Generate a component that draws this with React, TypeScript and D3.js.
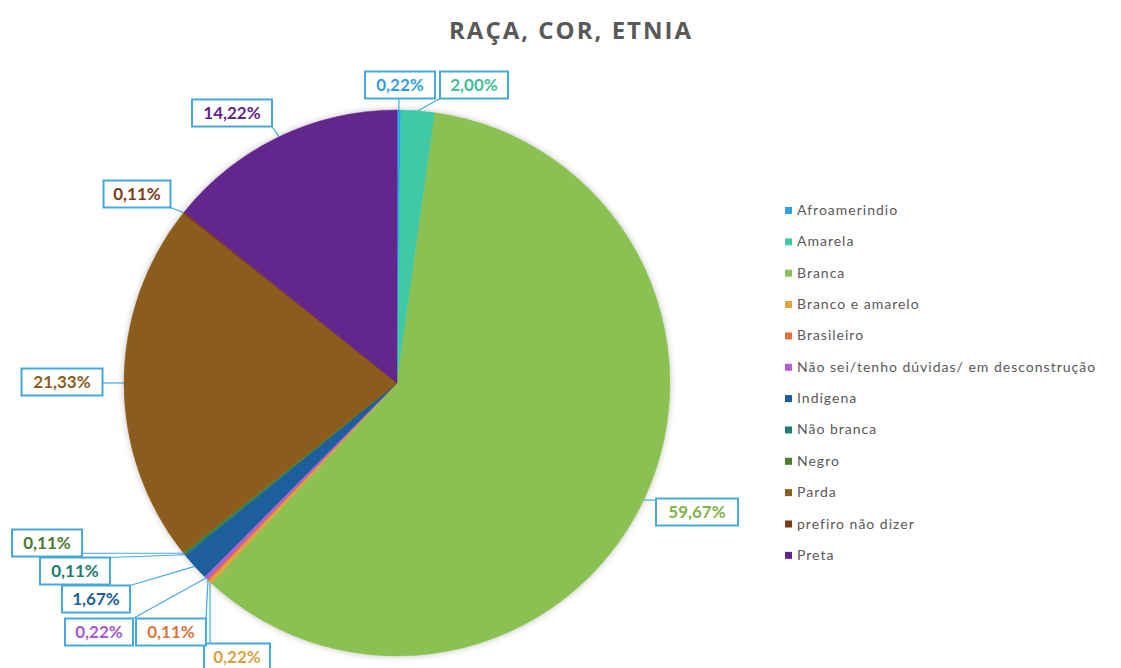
import React from "react";
import * as d3 from "d3";

const categories = [
  "Afroamerindio",
  "Amarela",
  "Branca",
  "Branco e amarelo",
  "Brasileiro",
  "Não sei/tenho dúvidas/ em desconstrução",
  "Indígena",
  "Não branca",
  "Negro",
  "Parda",
  "prefiro não dizer",
  "Preta",
];
const values = [0.22, 2.0, 59.67, 0.22, 0.11, 0.22, 1.67, 0.11, 0.11, 21.33, 0.11, 14.22];
const valueLabels = ["0,22%", "2,00%", "59,67%", "0,22%", "0,11%", "0,22%", "1,67%", "0,11%", "0,11%", "21,33%", "0,11%", "14,22%"];
const colors = ["#2f9fe3", "#3fc9a6", "#8bc152", "#e3a23a", "#e06f3c", "#b15fd1", "#1a5f9c", "#1e7e6b", "#4c7a2e", "#8b5c1b", "#7b3b14", "#62258d"];
const textColors = ["#2f9fe3", "#3fbf96", "#7fb34a", "#d9a23e", "#d9763f", "#a65acb", "#1a5f9c", "#1e7e6b", "#4c7a2e", "#8b5c1b", "#7b3b14", "#62258d"];
// label box centers (layout)
const labelCenters: [number, number][] = [
  [400, 85], [474, 85], [697, 512], [237, 657], [171, 632], [99, 632],
  [96, 599], [75, 571], [47, 543], [62, 382], [137, 194], [232, 113],
];
const labelWidths = [70, 68, 82, 66, 70, 68, 68, 70, 70, 81, 67, 80];

export default function App() {
  const W = 1121, H = 668;
  const cx = 397, cy = 383, R = 273;
  const pie = d3.pie<number>().sort(null).value((d) => d);
  const arcs = pie(values);
  const arc = d3.arc<d3.PieArcDatum<number>>().innerRadius(0).outerRadius(R);
  const boxH = 27;
  const labelBlue = "#45a8e0";

  return (
    <svg width={W} height={H} style={{ position: "absolute", left: 0, top: 0, background: "#fff" }}>
      <defs>
        <filter id="sh" x="-10%" y="-10%" width="120%" height="120%">
          <feDropShadow dx="0" dy="0" stdDeviation="3" floodColor="#000" floodOpacity="0.25" />
        </filter>
      </defs>
      <text x={571} y={39} textAnchor="middle" fontFamily="'Open Sans', sans-serif" fontWeight="bold" fontSize={24} letterSpacing={2} fill="#595959">
        RAÇA, COR, ETNIA
      </text>
      <g transform={`translate(${cx},${cy})`} filter="url(#sh)">
        {arcs.map((a, i) => (
          <path key={i} d={arc(a) || ""} fill={colors[i]} stroke={colors[i]} strokeWidth={0.5} />
        ))}
      </g>
      {arcs.map((a, i) => {
        const mid = (a.startAngle + a.endAngle) / 2;
        const px = cx + R * Math.sin(mid);
        const py = cy - R * Math.cos(mid);
        const [lx, ly] = labelCenters[i];
        const w = labelWidths[i];
        const x0 = lx - w / 2, x1 = lx + w / 2, y0 = ly - boxH / 2, y1 = ly + boxH / 2;
        const qx = Math.max(x0, Math.min(x1, px));
        const qy = Math.max(y0, Math.min(y1, py));
        const inside = qx === px && qy === py;
        return (
          <g key={i}>
            {!inside && <line x1={qx} y1={qy} x2={px} y2={py} stroke={labelBlue} strokeWidth={1.2} />}
            <rect x={x0} y={y0} width={w} height={boxH} fill="#fff" stroke={labelBlue} strokeWidth={2} />
            <text x={lx} y={ly + 6} textAnchor="middle" fontFamily="Lato, sans-serif" fontWeight="bold" fontSize={17} fill={textColors[i]}>
              {valueLabels[i]}
            </text>
          </g>
        );
      })}
      {categories.map((c, i) => {
        const y = 211 + i * 31.35;
        return (
          <g key={c}>
            <rect x={785} y={y - 4} width={7} height={7} fill={colors[i]} />
            <text x={797} y={y + 4} fontFamily="Lato, sans-serif" fontSize={14} fill="#595959" letterSpacing={1}>
              {c}
            </text>
          </g>
        );
      })}
    </svg>
  );
}
